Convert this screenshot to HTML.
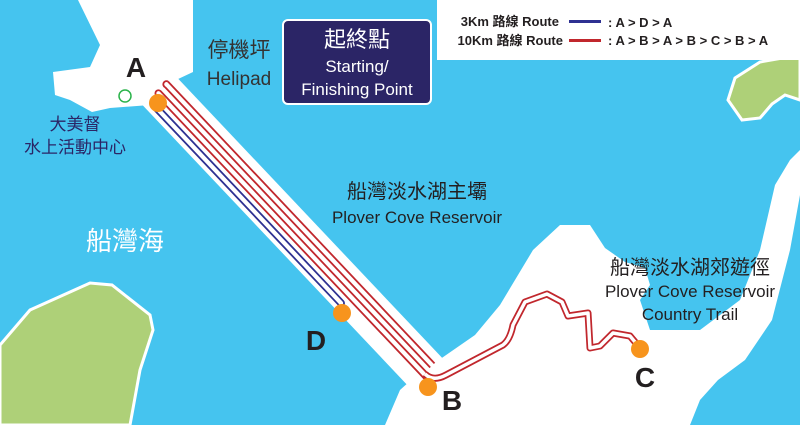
<!DOCTYPE html>
<html><head><meta charset="utf-8">
<style>
html,body{margin:0;padding:0;background:#45c4ef;}
svg{display:block;}
text{font-family:"Liberation Sans","Noto Sans CJK TC",sans-serif;}
</style></head>
<body>
<svg width="800" height="425" viewBox="0 0 800 425" xmlns="http://www.w3.org/2000/svg">
<rect width="800" height="425" fill="#45c4ef"/>
<!-- top-left land -->
<path d="M78,0 L193,0 L193,72 L176,80 L172,98 L150,105 L110,108 L92,112 L70,100 L55,95 L53,72 L90,67 L100,45 Z" fill="#fff"/>
<!-- dam -->
<g transform="translate(157,100) rotate(46.6)">
<rect x="-10" y="-30" width="410" height="44" fill="#fff"/>
</g>
<!-- bottom land -->
<path d="M385,425 L400,390 L420,372 L436,362 L475,335 L500,305 L533,250 L560,225 L590,225 L605,248 L625,262 L645,268 L650,285 L640,300 L650,330 L700,330 L740,300 L760,250 L775,185 L790,160 L800,150 L800,195 L790,250 L772,320 L745,360 L718,380 L700,400 L690,425 Z" fill="#fff"/>
<!-- islands -->
<path d="M0,345 L30,310 L90,283 L112,285 L150,315 L153,330 L140,370 L130,425 L0,425 Z" fill="#aed078" stroke="#fff" stroke-width="3"/>
<path d="M735,78 L760,62 L800,55 L800,100 L785,95 L772,104 L760,118 L742,120 L728,100 Z" fill="#aed078" stroke="#fff" stroke-width="3"/>
<!-- green circle -->
<circle cx="125" cy="96" r="6" fill="none" stroke="#2bb34b" stroke-width="1.5"/>
<!-- routes on dam -->
<g transform="translate(160,100) rotate(46.6)" fill="none" stroke-width="1.8">
<path d="M-2,11 L272,11 A3,3 0 0 0 272,5 L-2,5" stroke="#2e3192"/>
<path d="M0,-0.5 L389,-0.5 A3,3 0 0 1 389,-6.5 L-6,-6.5 A3,3 0 0 0 -6,-0.5" stroke="#c1272d"/>
<path d="M-6,-12.5 L380,-12.5" stroke="#c1272d"/>
<path d="M-8,-18.5 L380,-18.5" stroke="#c1272d"/>
<path d="M-6,-12.5 A3,3 0 0 1 -8,-18.5" stroke="#c1272d"/>
</g>
<!-- trail -->
<path d="M425,374 Q433,382 446,375 L503,345 Q510,340 513,325 L525,302 L547,294 L562,302 L568,316 L588,313 L590,348 L600,346 L613,333 L630,336 L640,348" fill="none" stroke="#c1272d" stroke-width="7" stroke-linejoin="round"/>
<path d="M425,374 Q433,382 446,375 L503,345 Q510,340 513,325 L525,302 L547,294 L562,302 L568,316 L588,313 L590,348 L600,346 L613,333 L630,336 L640,348" fill="none" stroke="#fff" stroke-width="3.5" stroke-linejoin="round"/>
<!-- orange points -->
<g fill="#f7941d">
<circle cx="158" cy="103" r="9"/>
<circle cx="342" cy="313" r="9"/>
<circle cx="428" cy="387" r="9"/>
<circle cx="640" cy="349" r="9"/>
</g>
<!-- letters -->
<g font-weight="bold" fill="#231f20" font-size="28" text-anchor="middle">
<text x="136" y="77">A</text>
<text x="316" y="350">D</text>
<text x="452" y="410">B</text>
<text x="645" y="387">C</text>
</g>
<!-- helipad box -->
<rect x="283" y="20" width="148" height="84" rx="5" fill="#2b2566" stroke="#fff" stroke-width="2"/>
<g fill="#fff" text-anchor="middle">
<text x="357" y="47" font-size="22">起終點</text>
<text x="357" y="72" font-size="17">Starting/</text>
<text x="357" y="95" font-size="17">Finishing Point</text>
</g>
<g fill="#333" text-anchor="middle">
<text x="239" y="57" font-size="21">停機坪</text>
<text x="239" y="85" font-size="19">Helipad</text>
</g>
<g fill="#2b2566" text-anchor="middle" font-size="17">
<text x="75" y="130">大美督</text>
<text x="75" y="153">水上活動中心</text>
</g>
<text x="125" y="250" fill="#fff" font-size="26" text-anchor="middle">船灣海</text>
<g fill="#231f20" text-anchor="middle">
<text x="417" y="198" font-size="20">船灣淡水湖主壩</text>
<text x="417" y="223" font-size="17">Plover Cove Reservoir</text>
<text x="690" y="274" font-size="20">船灣淡水湖郊遊徑</text>
<text x="690" y="297" font-size="17">Plover Cove Reservoir</text>
<text x="690" y="320" font-size="17">Country Trail</text>
</g>
<!-- legend -->
<rect x="437" y="-2" width="365" height="62" fill="#fff"/>
<g font-weight="bold" fill="#231f20" font-size="13">
<text x="559" y="26" text-anchor="end">3Km 路線 Route</text>
<text x="563" y="45" text-anchor="end">10Km 路線 Route</text>
<text x="608" y="27">: A &gt; D &gt; A</text>
<text x="608" y="45">: A &gt; B &gt; A &gt; B &gt; C &gt; B &gt; A</text>
</g>
<rect x="569" y="20" width="32" height="3" fill="#2e3192"/>
<rect x="569" y="39" width="32" height="3" fill="#c1272d"/>
</svg>
</body></html>
